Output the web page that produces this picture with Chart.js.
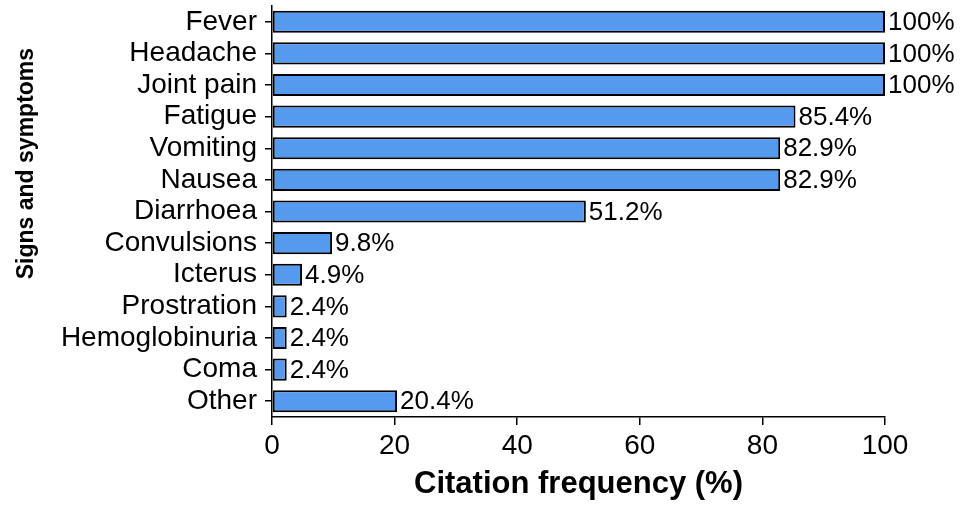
<!DOCTYPE html>
<html>
<head>
<meta charset="utf-8">
<script src="https://cdn.jsdelivr.net/npm/chart.js@4/dist/chart.umd.min.js"></script>
<style>
  html, body { margin: 0; padding: 0; background: #fff; }
  #wrap { width: 972px; height: 506px; }
</style>
</head>
<body>
<div id="wrap"><canvas id="chart"></canvas></div>
<script>
const symptoms = ["Fever", "Headache", "Joint pain", "Fatigue", "Vomiting", "Nausea", "Diarrhoea",
  "Convulsions", "Icterus", "Prostration", "Hemoglobinuria", "Coma", "Other"];
const frequency = [100, 100, 100, 85.4, 82.9, 82.9, 51.2, 9.8, 4.9, 2.4, 2.4, 2.4, 20.4];
const xTicks = [0, 20, 40, 60, 80, 100];

const FONT = '"Liberation Sans", Arial, sans-serif';

// percentage labels right of each bar
const valueLabels = {
  id: "valueLabels",
  afterDatasetsDraw(chart) {
    const ctx = chart.ctx;
    const meta = chart.getDatasetMeta(0);
    ctx.save();
    ctx.font = "26px " + FONT;
    ctx.fillStyle = "#000";
    ctx.textBaseline = "middle";
    ctx.textAlign = "left";
    meta.data.forEach((bar, i) => {
      ctx.fillText(frequency[i] + "%", bar.x + 3, bar.y + 1);
    });
    ctx.restore();
  }
};

new Chart(document.getElementById("chart"), {
  type: "bar",
  data: {
    labels: symptoms,
    datasets: [{
      data: frequency,
      backgroundColor: "#559AEF",
      borderColor: "#000",
      borderWidth: 2,
      borderSkipped: false,
      categoryPercentage: 1,
      barPercentage: 0.7
    }]
  },
  options: {
    indexAxis: "y",
    responsive: true,
    maintainAspectRatio: false,
    animation: false,
    layout: { padding: { top: 6, right: 87, bottom: 0, left: 0 } },
    plugins: {
      legend: { display: false },
      tooltip: { enabled: false }
    },
    scales: {
      x: {
        min: 0,
        max: 100,
        afterBuildTicks(scale) {
          scale.ticks = xTicks.map(v => ({ value: v }));
        },
        afterFit(scale) {
          scale.height = 89;
          scale.paddingLeft = 0;
          scale.paddingRight = 0;
        },
        grid: { drawOnChartArea: false, drawTicks: true, tickLength: 8, color: "#000", lineWidth: 1.5 },
        border: { display: true, color: "#000", width: 1.5 },
        ticks: { color: "#000", padding: 4, font: { family: FONT, size: 28 } },
        title: {
          display: true,
          text: "Citation frequency (%)",
          color: "#000",
          font: { family: FONT, size: 31, weight: "bold" },
          padding: { top: 0, bottom: 3 }
        }
      },
      y: {
        afterFit(scale) {
          scale.width = 272;
          scale.paddingTop = 0;
          scale.paddingBottom = 0;
        },
        grid: { offset: false, drawOnChartArea: false, drawTicks: true, tickLength: 7, color: "#000", lineWidth: 1.5 },
        border: { display: true, color: "#000", width: 1.5 },
        ticks: { color: "#000", padding: 8, autoSkip: false, font: { family: FONT, size: 28 } },
        title: {
          display: true,
          text: " ".repeat(15) + "Signs and symptoms",
          color: "#000",
          font: { family: FONT, size: 23, weight: "bold" },
          padding: { top: 13, bottom: 0 }
        }
      }
    }
  },
  plugins: [valueLabels]
});
</script>
</body>
</html>
